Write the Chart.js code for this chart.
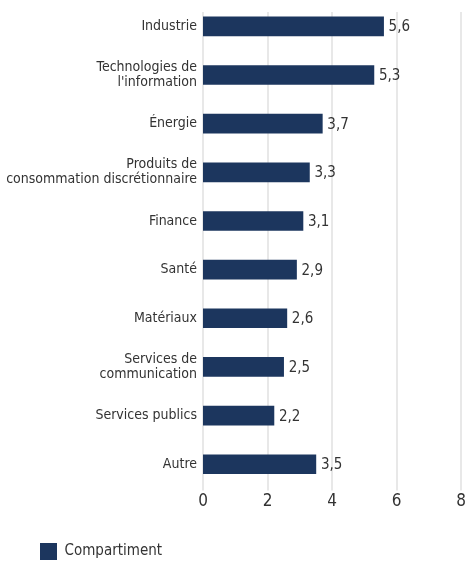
<!DOCTYPE html>
<html>
<head>
<meta charset="utf-8">
<script src="https://cdn.jsdelivr.net/npm/chart.js@4/dist/chart.umd.min.js"></script>
<style>
  html, body { margin: 0; padding: 0; background: #fff; }
  #wrap { width: 467px; height: 561px; position: relative; }
</style>
</head>
<body>
<div id="wrap"><canvas id="myChart"></canvas></div>
<script>
const sectors = [
    'Industrie',
    ['Technologies de', "l'information"],
    'Énergie',
    ['Produits de', 'consommation discrétionnaire'],
    'Finance',
    'Santé',
    'Matériaux',
    ['Services de', 'communication'],
    'Services publics',
    'Autre'
];
const weights = [5.6, 5.3, 3.7, 3.3, 3.1, 2.9, 2.6, 2.5, 2.2, 3.5];
const xTicks = [0, 2, 4, 6, 8];

const FONT = "'Liberation Sans Narrow', 'DejaVu Sans Condensed', sans-serif";
const navy = '#1c365e';
const textColor = '#333333';
const gridColor = '#e8e8e8';

// vertical grid lines, they start a bit below the top of the plot
const gridLines = {
    id: 'gridLines',
    beforeDatasetsDraw(chart) {
        const ctx = chart.ctx;
        const area = chart.chartArea;
        const x = chart.scales.x;
        ctx.save();
        ctx.strokeStyle = gridColor;
        ctx.lineWidth = 2;
        xTicks.forEach(v => {
            const px = Math.round(x.getPixelForValue(v));
            ctx.beginPath();
            ctx.moveTo(px, area.top + 10);
            ctx.lineTo(px, area.bottom + 2);
            ctx.stroke();
        });
        ctx.restore();
    }
};

// draws the value next to each bar, french decimal comma
const valueLabels = {
    id: 'valueLabels',
    afterDatasetsDraw(chart) {
        const ctx = chart.ctx;
        const meta = chart.getDatasetMeta(0);
        ctx.save();
        ctx.font = '15px ' + FONT;
        ctx.fillStyle = textColor;
        ctx.textAlign = 'left';
        ctx.textBaseline = 'middle';
        meta.data.forEach((bar, i) => {
            const txt = weights[i].toFixed(1).replace('.', ',');
            ctx.fillText(txt, bar.x + 5, bar.y + 1);
        });
        ctx.restore();
    }
};

// move the legend to match the original position
const legendShift = {
    id: 'legendShift',
    afterLayout(chart) {
        const lg = chart.legend;
        lg.left += 30;
        lg.right += 30;
        lg.top += 18;
        lg.bottom += 18;
    }
};

const ctx = document.getElementById('myChart');
new Chart(ctx, {
    type: 'bar',
    data: {
        labels: sectors,
        datasets: [{
            label: 'Compartiment',
            data: weights,
            backgroundColor: navy,
            borderWidth: 0,
            barThickness: 19
        }]
    },
    options: {
        indexAxis: 'y',
        responsive: true,
        maintainAspectRatio: false,
        animation: false,
        layout: { padding: { left: 0, right: 6, top: 2, bottom: 9 } },
        plugins: {
            tooltip: { enabled: false },
            legend: {
                position: 'bottom',
                align: 'start',
                labels: {
                    boxWidth: 17,
                    boxHeight: 17,
                    padding: 10,
                    color: textColor,
                    font: { family: FONT, size: 15 }
                }
            }
        },
        scales: {
            x: {
                min: 0,
                max: 8,
                afterBuildTicks(scale) {
                    scale.ticks = xTicks.map(v => ({ value: v }));
                },
                afterFit(scale) {
                    scale.paddingLeft = 0;
                    scale.paddingRight = 0;
                },
                grid: { display: false, drawTicks: false },
                border: { display: false },
                ticks: {
                    color: textColor,
                    padding: 3,
                    font: { family: FONT, size: 17 }
                }
            },
            y: {
                afterFit(scale) {
                    scale.width = 203;
                    scale.paddingTop = 0;
                    scale.paddingBottom = 0;
                },
                grid: { display: false, drawTicks: false },
                border: { display: false },
                ticks: {
                    color: textColor,
                    padding: 6,
                    font: { family: FONT, size: 14, lineHeight: 1.07 }
                }
            }
        }
    },
    plugins: [gridLines, valueLabels, legendShift]
});
</script>
</body>
</html>
